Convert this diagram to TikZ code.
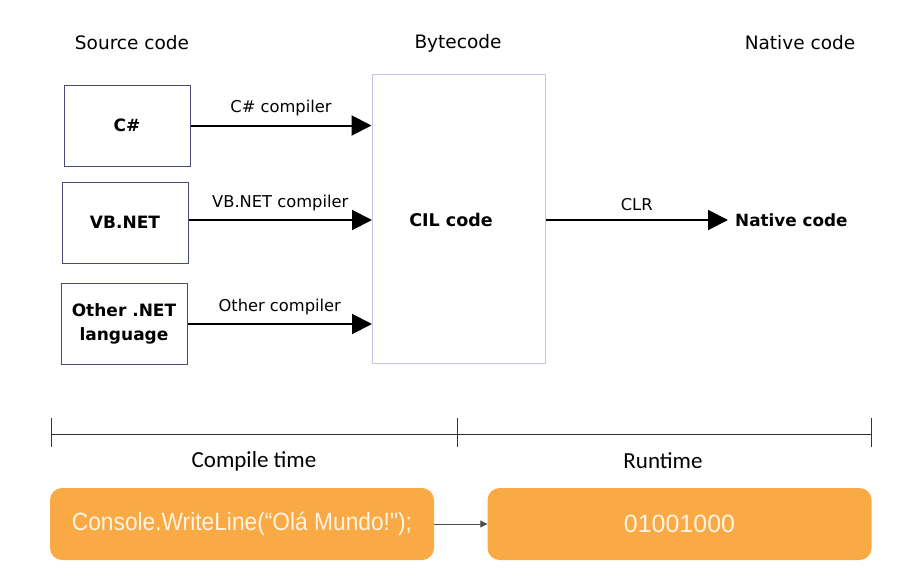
\documentclass[tikz,border=0pt]{standalone}
\usepackage{fontspec}
\setmainfont{DejaVu Sans}
\newfontfamily\calib{Carlito}
\newfontfamily\arialf{Liberation Sans}
\usetikzlibrary{arrows.meta}
\definecolor{navy}{HTML}{4A4A7A}
\definecolor{lav}{HTML}{C4C4E4}
\definecolor{orng}{HTML}{F9AA45}
\definecolor{ltxt}{HTML}{FFF4E4}
\tikzset{
  lang/.style={draw=navy, line width=1pt, minimum width=126pt, minimum height=81pt, font=\fontsize{17}{24}\selectfont\bfseries, align=center, inner sep=0pt},
  head/.style={font=\fontsize{18.5}{22}\selectfont},
  lbl/.style={font=\fontsize{16.3}{19}\selectfont},
  bigarr/.style={line width=2pt, -{Triangle[length=20pt,width=20pt]}},
  obox/.style={fill=orng, rounded corners=12pt, minimum width=384pt, minimum height=72pt, inner sep=0pt, text=ltxt, font=\arialf\fontsize{25}{28}\selectfont},
  tl/.style={line width=0.6pt, draw=black!80},
}
\begin{document}
\begin{tikzpicture}[x=1pt,y=-1pt]
\useasboundingbox (0,0) rectangle (906,568);
% headings
\node[head] (hs) at (132,43) {Source code};
\node[head] (hb) at (458,43) {Bytecode};
\node[head] (hn) at (800,43) {Native code};
% language boxes
\node[lang] (cs) at (127,125.5) {C\#};
\node[lang] (vb) at (125,222.5) {VB.NET};
\node[lang] (ot) at (124,324) {Other .NET\\language};
% CIL box
\node[draw=lav, line width=1pt, minimum width=173pt, minimum height=289pt, inner sep=0pt] (cil) at (458.5,218.5) {};
\node[font=\fontsize{17.5}{20}\selectfont\bfseries] (cilt) at (451,220) {CIL code};
% arrows
\coordinate (a1) at (cil.west |- cs.east);
\coordinate (a2) at (372,220);
\coordinate (a3) at (372,324);
\draw[bigarr] (cs.east) -- node[lbl, above=5pt] (l1) {C\# compiler} (a1);
\draw[bigarr] (vb.east |- a2) -- node[lbl, above=5pt] (l2) {VB.NET compiler} (a2);
\draw[bigarr] (ot.east |- a3) -- node[lbl, above=5pt] (l3) {Other compiler} (a3);
\node[font=\fontsize{16.8}{20}\selectfont\bfseries, anchor=west, inner sep=0pt] (nat) at (735,220) {Native code};
\draw[bigarr] (cil.east |- nat.west) -- node[lbl, above=5pt] (l4) {CLR} ([xshift=-7pt]nat.west);
% timeline
\coordinate (t0) at (51,434);
\coordinate (t1) at (457,434);
\coordinate (t2) at (871,434);
\draw[tl] (t0) -- (t2);
\draw[tl] ([yshift=-13pt]t0) -- ([yshift=16pt]t0);
\draw[tl] ([yshift=-13pt]t1) -- ([yshift=16pt]t1);
\draw[tl] ([yshift=-13pt]t2) -- ([yshift=16pt]t2);
\node[font=\calib\fontsize{23}{26}\selectfont] (ct) at (254,461) {Compile time};
\node[font=\calib\fontsize{23}{26}\selectfont] (rt) at (663,461) {Runtime};
% orange boxes
\node[obox] (ob1) at (242,524) {\scalebox{0.91}[1]{Console.WriteLine(“Olá Mundo!");}};
\node[obox] (ob2) at (679.5,524) {01001000};
\draw[line width=1pt, draw=black!70, -{Triangle[length=7pt,width=7pt]}] (ob1.east) -- (ob2.west);
\end{tikzpicture}
\end{document}
